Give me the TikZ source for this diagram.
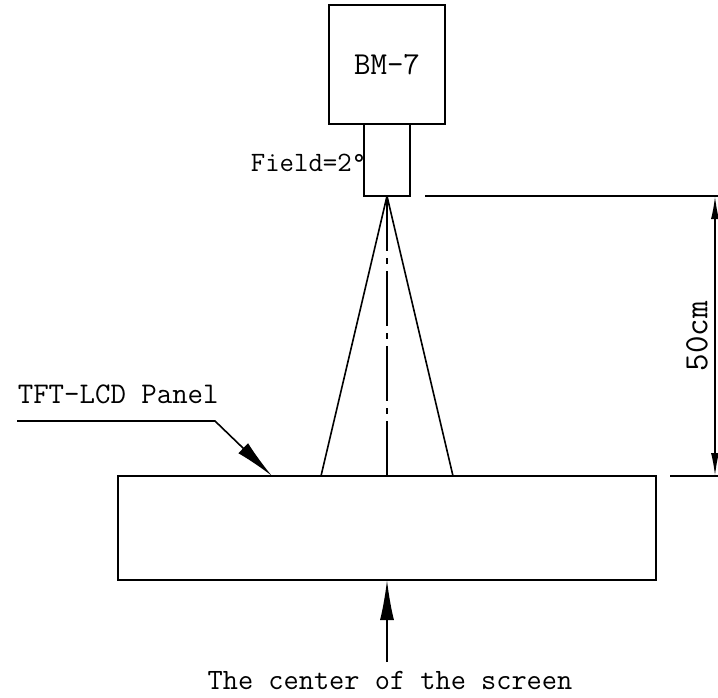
\documentclass[tikz,border=0pt]{standalone}
\usetikzlibrary{positioning,arrows.meta}
\tikzset{
  box/.style={draw, line width=1.5pt, inner sep=0pt, outer sep=0pt},
  lbl/.style={font=\ttfamily, inner sep=0pt},
  centerline/.style={line width=1.6pt, dash pattern=on 55pt off 7pt on 6pt off 7pt},
  dimline/.style={line width=1.6pt, {Latex[length=23pt,width=8pt]}-{Latex[length=23pt,width=8pt]}},
  leader/.style={line width=1.6pt, -{Latex[length=40pt,width=14pt]}}
}
\begin{document}
\begin{tikzpicture}[x=1pt, y=-1pt, line width=1.6pt]
\useasboundingbox (0,0) rectangle (718,697);
% luminance meter
\node[box, minimum width=116pt, minimum height=119pt] (bm) at (387,64.5) {\fontsize{32}{32}\selectfont\ttfamily BM-7};
\node[box, minimum width=46pt, minimum height=72pt, below=0pt of bm] (lens) {};
\node[lbl, left=-3pt of lens, yshift=-3pt] (field) {\fontsize{28}{28}\selectfont Field=2°};
% panel
\node[box, minimum width=538pt, minimum height=104pt] (panel) at (387,528) {};
% viewing cone
\coordinate (coneL) at (321,476);
\coordinate (coneR) at (453,476);
\draw (lens.south) -- (coneL);
\draw (lens.south) -- (coneR);
\draw[centerline] (lens.south) -- (panel.north);
% distance
\coordinate (extT) at (425,196);
\coordinate (extB) at (670,476);
\coordinate (dimT) at (715,196);
\coordinate (dimB) at (715,476);
\draw (extT) -- ++(293,0);
\draw (extB) -- ++(48,0);
\draw[dimline] (dimT) -- (dimB);
\node[lbl, rotate=90] (dist) at (697,336) {\fontsize{34}{34}\selectfont 50cm};
% panel label
\node[lbl, anchor=base west] (tft) at (17,403) {\fontsize{30}{30}\selectfont TFT-LCD Panel};
\coordinate (ldA) at (17,421);
\coordinate (ldB) at (215,421);
\coordinate (ldC) at (272,476);
\draw[leader] (ldA) -- (ldB) -- (ldC);
% screen centre
\coordinate (ctrA) at (387,662);
\draw[leader] (ctrA) -- (panel.south);
\node[lbl, anchor=base] (ctr) at (390,689) {\fontsize{29.5}{29.5}\selectfont The center of the screen};
\end{tikzpicture}
\end{document}
